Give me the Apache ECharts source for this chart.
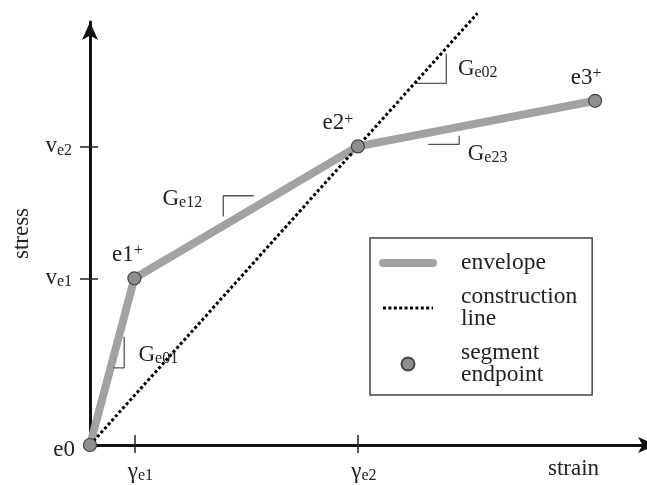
<!DOCTYPE html>
<html><head><meta charset="utf-8">
<script src="https://cdn.jsdelivr.net/npm/echarts@6/dist/echarts.min.js"></script>
<style>html,body{margin:0;padding:0;background:#fff}#c{width:647px;height:485px}</style>
</head><body><div id="c"></div>
<script>
// ---- data ----
const strainTicks = [1.0, 6.03];
const strainTickLabels = ['e1', 'e2'];      // subscripts of γ
const stressTicks = [4.02, 7.2];
const stressTickLabels = ['e1', 'e2'];      // subscripts of v
const pointNames = ['e0', 'e1', 'e2', 'e3'];
const pointSup = ['', '+', '+', '+'];
const pointStrain = [0, 1.0, 6.03, 11.37];
const pointStress = [0, 4.02, 7.2, 8.3];
const constructionStrain = [0, 8.72];
const constructionStress = [0, 10.41];
const slopeNames = ['e01', 'e12', 'e02', 'e23'];
const slopeMarkStrain = [[0.77, 0.77, 0.52], [3.69, 3.0, 3.0], [8.02, 8.02, 7.32], [7.61, 8.31, 8.31]];
const slopeMarkStress = [[2.61, 1.86, 1.86], [6.01, 6.01, 5.51], [9.44, 8.72, 8.72], [7.25, 7.25, 7.46]];
const slopeLabelStrain = [1.08, 1.62, 8.27, 8.49];
const slopeLabelStress = [2.17, 5.94, 9.06, 7.03];
const legendNames = ['envelope', 'construction line', 'segment endpoint'];

// ---- styles ----
const FONT = 'Liberation Serif';
const TXT = '#222';
const rich = {
  m: {fontFamily: FONT, fontSize: 23, color: TXT, lineHeight: 24},
  g: {fontFamily: FONT, fontSize: 23, color: TXT, lineHeight: 24},
  sub: {fontFamily: FONT, fontSize: 16, color: TXT, lineHeight: 10, verticalAlign: 'bottom'},
  sup: {fontFamily: FONT, fontSize: 16, color: TXT, lineHeight: 16, verticalAlign: 'top'}
};

const chart = echarts.init(document.getElementById('c'), null, {renderer: 'canvas'});

const pointOffsets = [[0, 5], [-7, 0], [-20, 0], [-9, 0]];
const pointPos = ['left', 'top', 'top', 'top'];
const pointDist = [8, 4, 4, 4];
const dotted = {color: '#000', width: 3, type: [3, 2.4]};
const envelopeStyle = {color: '#a2a2a2', width: 8, cap: 'round', join: 'round'};
const noSymbol = {color: 'rgba(0,0,0,0)', borderWidth: 0, opacity: 0};

const series = [
  {
    name: 'envelope', type: 'line', z: 2, symbol: 'none', silent: true,
    data: pointStrain.map((x, i) => [x, pointStress[i]]),
    lineStyle: envelopeStyle, itemStyle: {color: '#a2a2a2'}
  },
  {
    name: 'construction line', type: 'line', z: 3, symbol: 'none', silent: true, clip: false,
    data: constructionStrain.map((x, i) => [x, constructionStress[i]]),
    lineStyle: dotted, itemStyle: {color: '#000'}
  },
  {
    name: 'segment endpoint', type: 'scatter', z: 4, symbolSize: 13, silent: true, clip: false,
    itemStyle: {color: '#8e8e8e', borderColor: '#444', borderWidth: 1.2, opacity: 1},
    data: pointStrain.map((x, i) => ({
      value: [x, pointStress[i]],
      label: {
        show: true, position: pointPos[i], distance: pointDist[i], offset: pointOffsets[i], color: TXT,
        formatter: pointSup[i] ? '{m|' + pointNames[i] + '}{sup|' + pointSup[i] + '}' : '{m|' + pointNames[i] + '}',
        rich: rich
      }
    }))
  }
];
slopeNames.forEach((n, k) => {
  series.push({
    name: 'slope ' + n, type: 'line', z: 2, symbol: 'none', silent: true, clip: false,
    data: slopeMarkStrain[k].map((x, i) => [x, slopeMarkStress[k][i]]),
    lineStyle: {color: '#555', width: 1.3}
  });
});
series.push({
  name: 'slope labels', type: 'scatter', z: 5, symbolSize: 1, silent: true, clip: false,
  itemStyle: {color: '#fff', opacity: 1},
  data: slopeNames.map((n, k) => ({
    value: [slopeLabelStrain[k], slopeLabelStress[k]],
    label: {show: true, position: 'right', distance: 0, color: TXT, opacity: 1,
            formatter: '{g|G}{sub|' + n + '}', rich: rich}
  }))
});

const axisLineStyle = {color: '#111', width: 3};

chart.setOption({
  backgroundColor: '#fff',
  animation: false,
  grid: {left: 90, right: -9, top: 22, bottom: 40, outerBoundsMode: 'none', containLabel: false},
  xAxis: [
    {
      type: 'value', min: 0, max: 12.74, position: 'bottom',
      axisLine: {show: true, onZero: false, lineStyle: axisLineStyle, symbol: ['none', 'arrow'], symbolSize: [12, 18]},
      axisTick: {show: true, customValues: strainTicks, length: 8, inside: false, lineStyle: {color: '#222', width: 1.5}},
      axisLabel: {
        show: true, customValues: strainTicks, margin: 15, padding: [0, 0, 0, 12],
        formatter: v => '{g|γ}{sub|' + strainTickLabels[strainTicks.indexOf(v)] + '}', rich: rich
      },
      splitLine: {show: false},
      name: 'strain', nameLocation: 'end', nameGap: -108, nameMoveOverlap: false,
      nameTextStyle: {fontFamily: FONT, fontSize: 23, color: TXT, align: 'left', verticalAlign: 'top', padding: [12, 0, 0, 0]}
    },
    {
      type: 'value', min: 0, max: 12.74, position: 'bottom',
      axisLine: {show: false, onZero: false},
      axisTick: {show: true, customValues: strainTicks, length: 10, inside: true, lineStyle: {color: '#222', width: 1.5}},
      axisLabel: {show: false},
      splitLine: {show: false}
    }
  ],
  yAxis: [
    {
      type: 'value', min: 0, max: 10.2, position: 'left',
      axisLine: {show: true, onZero: false, lineStyle: axisLineStyle, symbol: ['none', 'arrow'], symbolSize: [12, 18]},
      axisTick: {show: true, customValues: stressTicks, length: 10, inside: false, lineStyle: {color: '#222', width: 1.5}},
      axisLabel: {
        show: true, customValues: stressTicks, margin: 18,
        formatter: v => '{m|v}{sub|' + stressTickLabels[stressTicks.indexOf(v)] + '}', rich: rich
      },
      splitLine: {show: false},
      name: 'stress', nameLocation: 'middle', nameGap: 57, nameRotate: 90, nameMoveOverlap: false,
      nameTextStyle: {fontFamily: FONT, fontSize: 23, color: TXT}
    },
    {
      type: 'value', min: 0, max: 10.2, position: 'left',
      axisLine: {show: false, onZero: false},
      axisTick: {show: true, customValues: stressTicks, length: 8, inside: true, lineStyle: {color: '#222', width: 1.5}},
      axisLabel: {show: false},
      splitLine: {show: false}
    }
  ],
  legend: {
    orient: 'vertical', left: 370, top: 238, padding: [13, 15, 8, 9], itemGap: 10,
    itemWidth: 50, itemHeight: 13, borderColor: '#444', borderWidth: 1.5, borderRadius: 0,
    backgroundColor: '#fff', selectedMode: false, z: 10,
    data: [
      {name: legendNames[0], lineStyle: envelopeStyle, itemStyle: noSymbol},
      {name: legendNames[1], lineStyle: dotted, itemStyle: noSymbol},
      {name: legendNames[2]}
    ],
    formatter: n => n.replace(' ', '\n'),
    textStyle: {fontFamily: FONT, fontSize: 23.5, color: TXT, lineHeight: 22, padding: [0, 0, 0, 23]}
  },
  series: series
});
</script></body></html>
